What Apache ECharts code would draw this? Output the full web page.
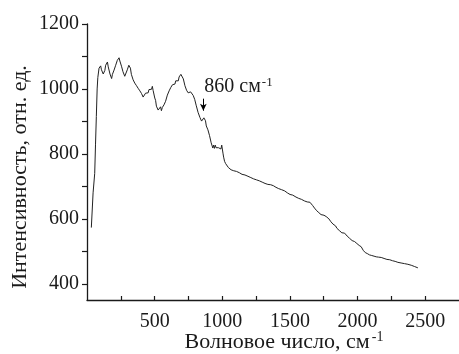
<!DOCTYPE html>
<html>
<head>
<meta charset="utf-8">
<script src="https://cdn.jsdelivr.net/npm/echarts@6/dist/echarts.min.js"></script>
<style>
  html, body { margin: 0; padding: 0; background: #ffffff; }
  #chart { width: 459px; height: 354px; }
</style>
</head>
<body>
<div id="chart"></div>
<script>
// Spectrum: wavenumber (cm^-1) and intensity (rel. units)
const wavenumbers = [
  32, 45, 57, 63, 69, 75, 80, 89, 96, 101, 107, 113, 120, 126, 132, 138, 145, 151, 157, 163,
  170, 176, 182, 188, 194, 200, 206, 212, 217, 224, 230, 237, 243, 249, 255, 261, 266, 272, 279, 286,
  292, 298, 303, 309, 315, 321, 328, 334, 341, 347, 353, 360, 366, 372, 378, 384, 391, 397, 403, 409,
  415, 421, 427, 433, 440, 446, 452, 458, 464, 471, 477, 483, 489, 495, 501, 507, 513, 519, 526, 532,
  538, 544, 550, 557, 563, 569, 575, 581, 588, 594, 601, 607, 613, 620, 626, 632, 638, 644, 650, 656,
  662, 669, 675, 681, 687, 694, 700, 706, 712, 718, 724, 730, 736, 742, 748, 754, 760, 766, 772, 779,
  785, 790, 796, 802, 808, 815, 821, 828, 835, 841, 847, 852, 858, 864, 870, 876, 882, 888, 894, 900,
  906, 912, 918, 924, 930, 936, 942, 948, 954, 960, 966, 972, 978, 984, 990, 996, 1002, 1006, 1010, 1017,
  1025, 1035, 1045, 1054, 1065, 1075, 1085, 1095, 1105, 1116, 1126, 1136, 1146, 1157, 1168, 1178, 1190, 1200, 1211, 1222,
  1232, 1243, 1253, 1263, 1274, 1284, 1295, 1305, 1316, 1326, 1337, 1348, 1358, 1368, 1378, 1387, 1397, 1407, 1417, 1427,
  1437, 1447, 1461, 1471, 1481, 1491, 1501, 1511, 1521, 1535, 1545, 1555, 1565, 1575, 1585, 1597, 1608, 1618, 1628, 1638,
  1648, 1653, 1660, 1668, 1675, 1682, 1690, 1698, 1706, 1714, 1722, 1730, 1737, 1744, 1752, 1760, 1768, 1775, 1781, 1788,
  1795, 1803, 1810, 1818, 1825, 1830, 1838, 1847, 1856, 1865, 1874, 1884, 1893, 1904, 1913, 1923, 1932, 1941, 1950, 1960,
  1970, 1978, 1987, 1995, 2004, 2012, 2020, 2027, 2034, 2042, 2050, 2057, 2064, 2072, 2080, 2088, 2097, 2105, 2113, 2122,
  2130, 2138, 2146, 2155, 2165, 2175, 2185, 2196, 2206, 2217, 2227, 2238, 2249, 2258, 2268, 2278, 2288, 2298, 2310, 2322,
  2335, 2347, 2360, 2372, 2385, 2397, 2410, 2422, 2434, 2446
];
const intensities = [
  573, 680, 740, 830, 915, 1000, 1035, 1064, 1058, 1071, 1059, 1060, 1046, 1050, 1057, 1073, 1072, 1083, 1068, 1065,
  1046, 1043, 1032, 1045, 1047, 1058, 1059, 1073, 1072, 1088, 1087, 1096, 1086, 1087, 1070, 1067, 1053, 1052, 1039, 1041,
  1043, 1059, 1060, 1073, 1071, 1064, 1045, 1042, 1028, 1031, 1018, 1021, 1010, 1013, 1002, 1007, 994, 999, 986, 987,
  975, 979, 977, 987, 982, 991, 988, 998, 993, 1001, 999, 1008, 995, 990, 972, 965, 947, 946, 935, 939,
  934, 945, 933, 943, 940, 951, 949, 962, 965, 981, 983, 994, 992, 1005, 1002, 1013, 1010, 1019, 1015, 1025,
  1020, 1029, 1025, 1037, 1035, 1045, 1043, 1045, 1031, 1027, 1010, 1009, 996, 999, 988, 991, 983, 991, 989, 993,
  980, 981, 968, 965, 948, 943, 928, 927, 912, 913, 901, 903, 901, 911, 907, 902, 886, 887, 874, 872,
  856, 850, 834, 830, 818, 827, 817, 827, 819, 822, 816, 819, 817, 825, 815, 827, 821, 800, 790, 777,
  770, 765, 758, 760, 751, 754, 748, 750, 746, 748, 742, 741, 737, 738, 735, 736, 731, 733, 727, 729,
  723, 725, 720, 722, 717, 718, 713, 714, 709, 710, 706, 704, 705, 700, 702, 698, 697, 694, 693, 689,
  690, 685, 686, 681, 680, 676, 675, 672, 673, 668, 667, 664, 663, 659, 660, 655, 655, 651, 652, 647,
  651, 648, 646, 641, 639, 633, 631, 625, 623, 619, 617, 613, 613, 615, 611, 612, 607, 608, 604, 600,
  597, 591, 589, 584, 583, 580, 578, 571, 569, 564, 562, 557, 557, 556, 552, 547, 545, 540, 539, 533,
  533, 530, 529, 524, 523, 518, 518, 514, 511, 503, 501, 496, 496, 493, 493, 489, 490, 487, 488, 485,
  486, 483, 485, 482, 484, 481, 482, 478, 479, 475, 477, 474, 476, 471, 472, 469, 470, 466, 467, 464,
  465, 462, 463, 460, 461, 457, 456, 453, 452, 449
];

// Axis ranges and tick positions
const xRange = [0, 2750];
const yRange = [350, 1200];
const xTickValues = [250, 500, 750, 1000, 1250, 1500, 1750, 2000, 2250, 2500];
const xLabelValues = [500, 1000, 1500, 2000, 2500];
const yTickValues = [400, 500, 600, 700, 800, 900, 1000, 1100, 1200];
const yLabelValues = [400, 600, 800, 1000, 1200];

// Annotated band
const bandPosition = 860;
const bandText = '860 см';
const arrowFrom = 970;
const arrowTo = 933;
const bandTextLevel = 1006;

const FONT = '"Liberation Serif", "Times New Roman", serif';
const INK = '#1a1a1a';

const chart = echarts.init(document.getElementById('chart'), null, { renderer: 'canvas' });

const option = {
  animation: false,
  backgroundColor: '#ffffff',
  grid: { left: 87, right: 0, top: 24, bottom: 54, containLabel: false, outerBoundsMode: 'none' },
  xAxis: {
    type: 'value',
    min: xRange[0],
    max: xRange[1],
    name: '{a|Волновое число, см}{s|-1}',
    nameLocation: 'middle',
    nameMoveOverlap: false,
    nameGap: 30,
    nameTextStyle: {
      padding: [0, 0, 0, 22],
      rich: {
        a: { fontFamily: FONT, fontSize: 22, color: INK, lineHeight: 24 },
        s: { fontFamily: FONT, fontSize: 14, color: INK, verticalAlign: 'top', lineHeight: 24, padding: [0, 0, 12, 2] }
      }
    },
    axisLine: { show: true, onZero: false, lineStyle: { color: INK, width: 1.3 } },
    axisTick: { show: true, inside: true, length: 4, customValues: xTickValues, lineStyle: { color: INK, width: 1.2 } },
    axisLabel: { customValues: xLabelValues, fontFamily: FONT, fontSize: 20, color: INK, margin: 12, formatter: v => String(v) },
    splitLine: { show: false }
  },
  yAxis: {
    type: 'value',
    min: yRange[0],
    max: yRange[1],
    name: 'Интенсивность, отн. ед.',
    nameLocation: 'middle',
    nameMoveOverlap: false,
    nameGap: 56,
    nameTextStyle: { fontFamily: FONT, fontSize: 22, color: INK, padding: [0, 30, 0, 0] },
    axisLine: { show: true, onZero: false, lineStyle: { color: INK, width: 1.3 } },
    axisTick: { show: true, inside: false, length: 5, customValues: yTickValues, lineStyle: { color: INK, width: 1.2 } },
    axisLabel: { customValues: yLabelValues, fontFamily: FONT, fontSize: 20, color: INK, margin: 8, formatter: v => String(v) },
    splitLine: { show: false }
  },
  series: [{
    type: 'line',
    data: wavenumbers.map((w, i) => [w, intensities[i]]),
    showSymbol: false,
    smooth: false,
    lineStyle: { color: '#222222', width: 1 },
    markLine: {
      silent: true,
      symbol: ['none', 'arrow'],
      symbolSize: [5, 7],
      label: { show: false },
      lineStyle: { color: '#000', width: 1, type: 'solid' },
      data: [[{ coord: [bandPosition, arrowFrom] }, { coord: [bandPosition, arrowTo] }]]
    }
  }]
};

chart.setOption(option);

// Band caption placed at data coordinates next to the arrow
const anchor = chart.convertToPixel({ gridIndex: 0 }, [bandPosition, bandTextLevel]);
chart.setOption({
  graphic: [{
    type: 'text',
    x: anchor[0] + 1,
    y: anchor[1],
    silent: true,
    style: {
      text: '{a|' + bandText + '}{s|-1}',
      verticalAlign: 'middle',
      align: 'left',
      rich: {
        a: { fontFamily: FONT, fontSize: 20, fill: INK, lineHeight: 22 },
        s: { fontFamily: FONT, fontSize: 13, fill: INK, verticalAlign: 'top', lineHeight: 22, padding: [0, 0, 10, 1] }
      }
    }
  }]
});
</script>
</body>
</html>
